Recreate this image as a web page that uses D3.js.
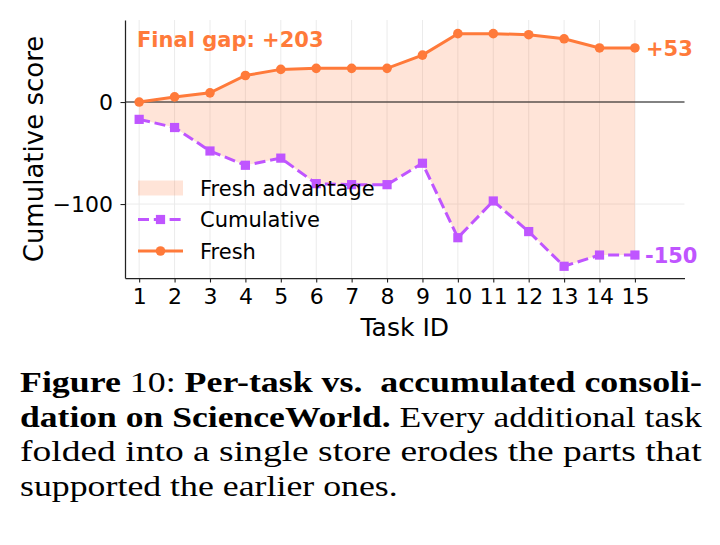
<!DOCTYPE html>
<html>
<head>
<meta charset="utf-8">
<script src="https://cdn.jsdelivr.net/npm/d3@7"></script>
<style>
  body { margin: 0; background: #fff; }
  svg { display: block; font-family: "DejaVu Sans", sans-serif; }
</style>
</head>
<body>
<svg id="chart" width="720" height="545"></svg>
<script>
var tasks = [1, 2, 3, 4, 5, 6, 7, 8, 9, 10, 11, 12, 13, 14, 15];
var fresh = [0, 5, 9, 26, 32, 33, 33, 33, 46, 67, 67, 66, 62, 53, 53];
var cumulative = [-17, -25, -48, -62, -55, -80, -81, -81, -60, -133, -97, -127, -161, -150, -150];
var yTicks = [0, -100];
var legendItems = ["Fresh advantage", "Cumulative", "Fresh"];

var captionLines = [
  [["b", "Figure"], ["r", " 10: "], ["b", "Per-task vs.  accumulated consoli-"]],
  [["b", "dation on ScienceWorld."], ["r", " Every additional task"]],
  [["r", "folded into a single store erodes the parts that"]],
  [["r", "supported the earlier ones."]]
];

var orange = "#ff7a3a";
var purple = "#bf55ff";

var plotLeft = 125, plotRight = 684.5, plotTop = 20, plotBottom = 278;

var svg = d3.select("#chart");

var x = d3.scaleLinear().domain([0.6, 16.4]).range([plotLeft, plotRight]);
var y = d3.scaleLinear().domain([-172.5, 80.4]).range([plotBottom, plotTop]);

/* grid */
svg.append("g")
  .selectAll("line")
  .data(tasks)
  .enter()
  .append("line")
  .attr("x1", (d) => x(d)).attr("x2", (d) => x(d))
  .attr("y1", plotTop).attr("y2", plotBottom)
  .attr("stroke", "#ebebeb").attr("stroke-width", 1);

svg.append("g")
  .selectAll("line")
  .data(yTicks)
  .enter()
  .append("line")
  .attr("x1", plotLeft).attr("x2", plotRight)
  .attr("y1", (d) => y(d)).attr("y2", (d) => y(d))
  .attr("stroke", "#ebebeb").attr("stroke-width", 1);

/* fill between */
var rows = tasks.map((t, i) => ({ t: t, f: fresh[i], c: cumulative[i] }));

var area = d3.area()
  .x((d) => x(d.t))
  .y0((d) => y(d.c))
  .y1((d) => y(d.f));

svg.append("path")
  .attr("d", area(rows))
  .attr("fill", orange)
  .attr("fill-opacity", 0.2);

/* zero line */
svg.append("line")
  .attr("x1", plotLeft).attr("x2", plotRight)
  .attr("y1", y(0)).attr("y2", y(0))
  .attr("stroke", "#111").attr("stroke-width", 1.2);

/* cumulative series */
var lineC = d3.line().x((d) => x(d.t)).y((d) => y(d.c));
svg.append("path")
  .attr("d", lineC(rows))
  .attr("fill", "none")
  .attr("stroke", purple)
  .attr("stroke-width", 3)
  .attr("stroke-dasharray", "11,4.8");

svg.append("g")
  .selectAll("rect")
  .data(rows)
  .enter()
  .append("rect")
  .attr("x", (d) => x(d.t) - 4.6)
  .attr("y", (d) => y(d.c) - 4.6)
  .attr("width", 9.2).attr("height", 9.2)
  .attr("fill", purple);

/* fresh series */
var lineF = d3.line().x((d) => x(d.t)).y((d) => y(d.f));
svg.append("path")
  .attr("d", lineF(rows))
  .attr("fill", "none")
  .attr("stroke", orange)
  .attr("stroke-width", 3);

svg.append("g")
  .selectAll("circle")
  .data(rows)
  .enter()
  .append("circle")
  .attr("cx", (d) => x(d.t))
  .attr("cy", (d) => y(d.f))
  .attr("r", 4.8)
  .attr("fill", orange);

/* axes */
var xAxis = d3.axisBottom(x).tickValues(tasks).tickSize(4.5).tickSizeOuter(0).tickPadding(6);
var yAxis = d3.axisLeft(y).tickValues(yTicks).tickSize(4.5).tickSizeOuter(0).tickPadding(7.5)
  .tickFormat((d) => d < 0 ? "\u2212" + Math.abs(d) : d);

var gx = svg.append("g")
  .attr("transform", `translate(0, ${plotBottom})`)
  .call(xAxis);
var gy = svg.append("g")
  .attr("transform", `translate(${plotLeft}, 0)`)
  .call(yAxis);

[gx, gy].forEach(function (g) {
  g.select(".domain").attr("stroke", "#222").attr("stroke-width", 1.25);
  g.selectAll(".tick line").attr("stroke", "#222").attr("stroke-width", 1.1);
  g.selectAll(".tick text")
    .attr("fill", "#000")
    .style("font-family", "DejaVu Sans")
    .style("font-size", "22px");
});

svg.append("text")
  .attr("x", (plotLeft + plotRight) / 2)
  .attr("y", 336)
  .attr("text-anchor", "middle")
  .style("font-size", "25px")
  .text("Task ID");

svg.append("text")
  .attr("transform", `translate(43, ${(plotTop + plotBottom) / 2}) rotate(-90)`)
  .attr("text-anchor", "middle")
  .style("font-size", "26px")
  .text("Cumulative score");

/* annotations */
svg.append("text")
  .attr("x", 137).attr("y", 39)
  .attr("dy", "0.36em")
  .attr("fill", orange)
  .style("font-size", "21px").style("font-weight", "bold")
  .text("Final gap: +" + (fresh[14] - cumulative[14]));

svg.append("text")
  .attr("x", x(15) + 11).attr("y", y(fresh[14]))
  .attr("dy", "0.36em")
  .attr("fill", orange)
  .style("font-size", "21px").style("font-weight", "bold")
  .text("+" + fresh[14]);

svg.append("text")
  .attr("x", x(15) + 10).attr("y", y(cumulative[14]))
  .attr("dy", "0.36em")
  .attr("fill", purple)
  .style("font-size", "21px").style("font-weight", "bold")
  .text(String(cumulative[14]));

/* legend */
var legend = svg.append("g").attr("transform", "translate(138, 188)");
var rowGap = 31.5;

legend.append("rect")
  .attr("x", 0).attr("y", -7.5)
  .attr("width", 45).attr("height", 15)
  .attr("fill", orange).attr("fill-opacity", 0.2);

legend.append("line")
  .attr("x1", 0).attr("x2", 45)
  .attr("y1", rowGap).attr("y2", rowGap)
  .attr("stroke", purple).attr("stroke-width", 3)
  .attr("stroke-dasharray", "11,4.8");
legend.append("rect")
  .attr("x", 22.5 - 4.6).attr("y", rowGap - 4.6)
  .attr("width", 9.2).attr("height", 9.2)
  .attr("fill", purple);

legend.append("line")
  .attr("x1", 0).attr("x2", 45)
  .attr("y1", rowGap * 2).attr("y2", rowGap * 2)
  .attr("stroke", orange).attr("stroke-width", 3);
legend.append("circle")
  .attr("cx", 22.5).attr("cy", rowGap * 2)
  .attr("r", 4.8).attr("fill", orange);

legend.selectAll("text.lbl")
  .data(legendItems)
  .enter()
  .append("text")
  .attr("class", "lbl")
  .attr("x", 62)
  .attr("y", (d, i) => i * rowGap)
  .attr("dy", "0.36em")
  .style("font-size", "21px")
  .text((d) => d);

/* caption */
var capBase = [392, 427, 461, 496];
var capWidth = [682, 682, 682, 378];

captionLines.forEach(function (parts, i) {
  var g = svg.append("g");
  var t = g.append("text")
    .style("font-family", "'Liberation Serif', serif")
    .style("font-size", "30px")
    .attr("xml:space", "preserve")
    .style("white-space", "pre");
  parts.forEach(function (p) {
    t.append("tspan")
      .style("font-weight", p[0] === "b" ? "bold" : "normal")
      .text(p[1]);
  });
  var w = t.node().getComputedTextLength();
  var k = capWidth[i] / w;
  g.attr("transform", `translate(20, ${capBase[i]}) scale(${k}, 1)`);
});
</script>
</body>
</html>
